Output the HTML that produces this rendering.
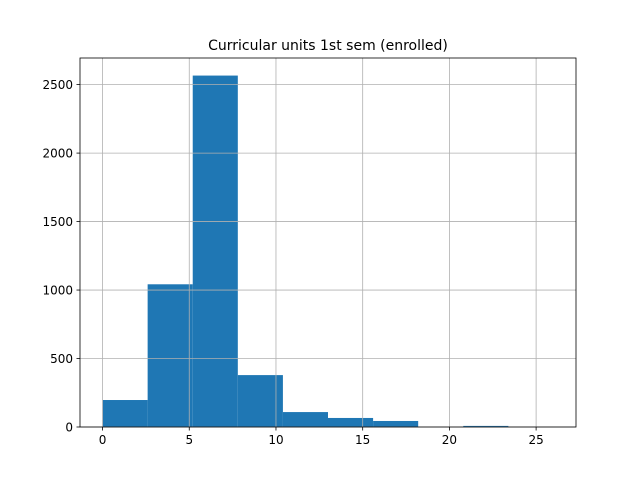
<!DOCTYPE html>
<html><head><meta charset="utf-8"><style>body{margin:0;background:#fff}svg{display:block;font-family:"DejaVu Sans","Liberation Sans",sans-serif}</style></head>
<body>
<svg width="640" height="480">
<rect width="640" height="480" fill="#fff"/>
<g id="bars"></g><g id="grid"></g><g id="axes"></g>
<text x="328" y="50" text-anchor="middle" font-size="14" fill="#000">Curricular units 1st sem (enrolled)</text>
</svg>
<script>
const binEdges = [0,2.6,5.2,7.8,10.4,13,15.6,18.2,20.8,23.4,26];
const counts = [197,1042,2566,379,109,66,44,0,8,1];
const xTicks = [0,5,10,15,20,25];
const yTicks = [0,500,1000,1500,2000,2500];
const L=80,R=576,T=58,B=427;
const xmin=-1.3,xmax=27.3,ymax=2566*1.05;
const xs=v=>L+(v-xmin)/(xmax-xmin)*(R-L);
const ys=v=>B-v/ymax*(B-T);
const NS='http://www.w3.org/2000/svg';
function mk(p,t,a){const e=document.createElementNS(NS,t);for(const k in a)e.setAttribute(k,a[k]);p.appendChild(e);return e;}
const bars=document.getElementById('bars'),grid=document.getElementById('grid'),axes=document.getElementById('axes');
counts.forEach((c,i)=>{
 const x0=xs(binEdges[i]),x1=xs(binEdges[i+1]);
 const r=mk(bars,'rect',{x:x0,y:ys(c),width:x1-x0,height:B-ys(c),fill:'#1f77b4'});
 
 
});
xTicks.forEach(t=>{
 const x=xs(t);
 const g=mk(grid,'line',{x1:x,x2:x,y1:T,y2:B,stroke:'#b0b0b0','stroke-width':0.8});
 
 
 mk(axes,'line',{x1:x,x2:x,y1:B,y2:B+3.5,stroke:'#000','stroke-width':0.8});
 const tx=mk(axes,'text',{x:x,y:B+17,'text-anchor':'middle','font-size':'12'});
 tx.textContent=t;
 
 
});
yTicks.forEach(t=>{
 const y=ys(t);
 const g=mk(grid,'line',{x1:L,x2:R,y1:y,y2:y,stroke:'#b0b0b0','stroke-width':0.8});
 
 
 mk(axes,'line',{x1:L-3.5,x2:L,y1:y,y2:y,stroke:'#000','stroke-width':0.8});
 const tx=mk(axes,'text',{x:L-7,y:y+4.5,'text-anchor':'end','font-size':'12'});
 tx.textContent=t;
 
 
});
const fr=mk(axes,'rect',{x:L,y:T,width:R-L,height:B-T,fill:'none',stroke:'#000','stroke-width':0.8});


</script>
</body></html>
